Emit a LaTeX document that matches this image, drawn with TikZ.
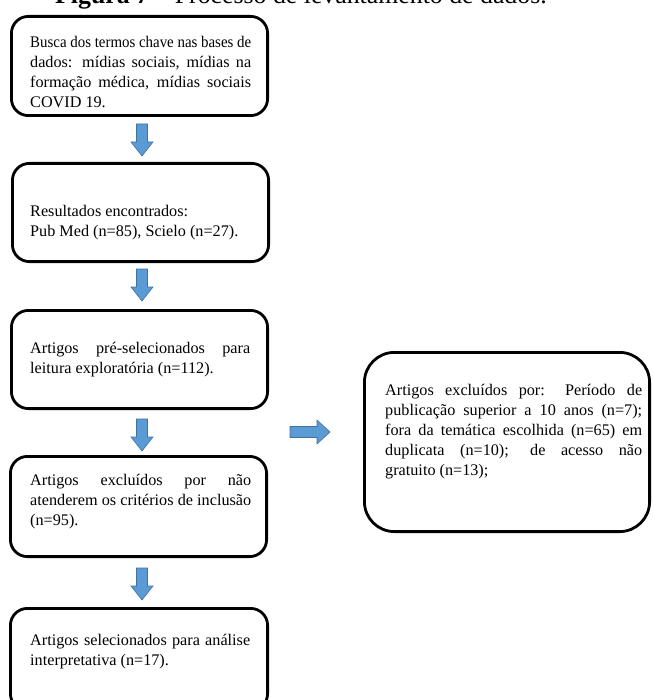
\documentclass[tikz,border=0pt]{standalone}
\usepackage{fontspec}
\setmainfont{Liberation Serif}
\usepackage{graphicx}
\definecolor{arrowblue}{HTML}{5B9BD5}
\definecolor{arrowedge}{HTML}{41719C}
\newsavebox{\linebox}
\newcommand{\jline}[1]{\sbox{\linebox}{#1}\ifdim\wd\linebox>\linewidth\resizebox{\linewidth}{\height}{#1}\else\makebox[\linewidth][s]{#1}\fi}
\newcommand{\boxtext}[2]{\parbox[t]{#1}{\fontsize{16.2}{20}\selectfont\raggedright #2}}
\tikzset{
  flowbox/.style={draw, line width=2.8pt, rounded corners=17pt, inner sep=0pt, fill=white},
  bigbox/.style={draw, line width=2.8pt, rounded corners=30pt, inner sep=0pt, fill=white},
  boxtxt/.style={anchor=base west, inner sep=0pt, text=black},
  arrowfill/.style={fill=arrowblue, draw=arrowedge, line width=0.6pt, line join=miter},
  darrow/.pic={\draw[arrowfill] (-5.5,0) -- (5.5,0) -- (5.5,18) -- (11,18) -- (0,32) -- (-11,18) -- (-5.5,18) -- cycle;},
  rarrow/.pic={\draw[arrowfill] (0,-5.5) -- (27,-5.5) -- (27,-12) -- (40,0) -- (27,12) -- (27,5.5) -- (0,5.5) -- cycle;}
}
\begin{document}
\begin{tikzpicture}[x=1pt, y=-1pt]
\useasboundingbox (0,0) rectangle (652,700);
\clip (0,0) rectangle (652,700);
\fill[white] (0,0) rectangle (652,700);

% title (top cut off as in the reference)
\node[anchor=base west, inner sep=0pt] (title) at (55,4)
  {\fontsize{25.8}{30}\selectfont\textbf{Figura 7} – Processo de levantamento de dados.};

% boxes
\node[flowbox, minimum width=256.2pt, minimum height=99.2pt] (b1) at (139.5,66) {};
\node[flowbox, minimum width=256.2pt, minimum height=98.2pt] (b2) at (140.5,212.5) {};
\node[flowbox, minimum width=256.2pt, minimum height=98.2pt] (b3) at (139.5,359.5) {};
\node[flowbox, minimum width=256.2pt, minimum height=100.2pt] (b4) at (138.5,506.5) {};
\node[flowbox, minimum width=257.2pt, minimum height=102.2pt] (b5) at (139,659.5) {};
\node[bigbox, minimum width=285.2pt, minimum height=179.2pt] (r1) at (507,442) {};

% texts
\node[boxtxt] (t1) at (30,48) {\boxtext{221pt}{%
\jline{Busca dos termos chave nas bases de}\\
\jline{dados: mídias sociais, mídias na}\\
\jline{formação médica, mídias sociais}\\
COVID 19.}};

\node[boxtxt] (t2) at (30,217) {\boxtext{221pt}{%
Resultados encontrados:\\
Pub Med (n=85), Scielo (n=27).}};

\node[boxtxt] (t3) at (30,353) {\boxtext{220pt}{%
\jline{Artigos pré-selecionados para}\\
leitura exploratória (n=112).}};

\node[boxtxt] (t4) at (30,485) {\boxtext{221pt}{%
\jline{Artigos excluídos por não}\\
\jline{atenderem os critérios de inclusão}\\
(n=95).}};

\node[boxtxt] (t5) at (30,645) {\boxtext{220pt}{%
\jline{Artigos selecionados para análise}\\
interpretativa (n=17).}};

\node[boxtxt] (t6) at (385,395) {\boxtext{257pt}{%
\jline{Artigos excluídos por: Período de}\\
\jline{publicação superior a 10 anos (n=7);}\\
\jline{fora da temática escolhida (n=65) em}\\
\jline{duplicata (n=10); de acesso não}\\
gratuito (n=13);}};

% block arrows
\pic at (142,124) {darrow};
\pic at (142,269) {darrow};
\pic at (142,419) {darrow};
\pic at (142,568) {darrow};
\pic at (290,432) {rarrow};
\end{tikzpicture}
\end{document}
